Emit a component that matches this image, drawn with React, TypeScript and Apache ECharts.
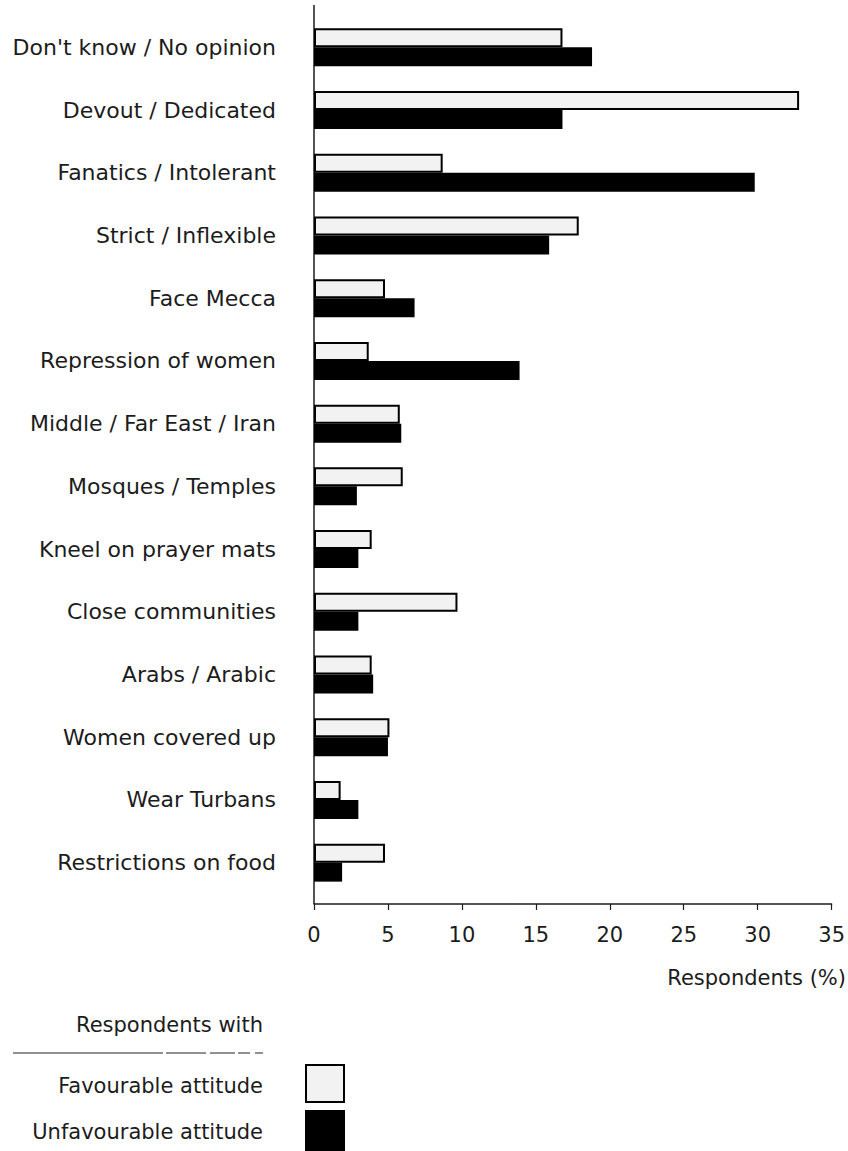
import React, { useEffect, useRef } from "react";
import * as echarts from "echarts";

const categories = [
  "Don't know / No opinion",
  "Devout / Dedicated",
  "Fanatics / Intolerant",
  "Strict / Inflexible",
  "Face Mecca",
  "Repression of women",
  "Middle / Far East / Iran",
  "Mosques / Temples",
  "Kneel on prayer mats",
  "Close communities",
  "Arabs / Arabic",
  "Women covered up",
  "Wear Turbans",
  "Restrictions on food",
];
const favourable = [16.8, 32.8, 8.7, 17.9, 4.8, 3.7, 5.8, 6.0, 3.9, 9.7, 3.9, 5.1, 1.8, 4.8];
const unfavourable = [18.8, 16.8, 29.8, 15.9, 6.8, 13.9, 5.9, 2.9, 3.0, 3.0, 4.0, 5.0, 3.0, 1.9];
const xMin = 0;
const xMax = 35;
const xStep = 5;
const seriesNames = ["Favourable attitude", "Unfavourable attitude"];
const legendTitle = "Respondents with";
const axisTitle = "Respondents (%)";

const FONT = "DejaVu Sans";
const INK = "#1c1c1c";
const FAV_FILL = "#f2f2f2";
const X0 = 314;
const PX_PER_UNIT = 14.94;

function txt(text: string, x: number, y: number, size: number, align: string) {
  return {
    type: "text",
    x,
    y,
    style: {
      text,
      fontSize: size,
      fontFamily: FONT,
      fill: INK,
      align,
      verticalAlign: "middle",
      textAlign: align,
      textVerticalAlign: "middle",
    },
  };
}

export default function App() {
  const ref = useRef<HTMLDivElement>(null);
  useEffect(() => {
    const chart = echarts.init(ref.current!, null, { renderer: "svg" });
    chart.setOption({
      animation: false,
      backgroundColor: "#ffffff",
      textStyle: { fontFamily: FONT, color: INK },
      grid: {
        left: X0,
        top: 16,
        width: (xMax - xMin) * PX_PER_UNIT,
        height: 878,
        containLabel: false,
      },
      xAxis: {
        type: "value",
        min: xMin,
        max: xMax,
        interval: xStep,
        offset: 10,
        axisLine: { show: true, lineStyle: { color: INK, width: 1.5 } },
        axisTick: { show: true, length: 6, lineStyle: { color: INK, width: 1.2 } },
        axisLabel: { fontSize: 21, color: INK, margin: 20, fontFamily: FONT },
        splitLine: { show: false },
      },
      yAxis: {
        type: "category",
        data: categories,
        inverse: true,
        axisLine: { show: false },
        axisTick: { show: false },
        axisLabel: {
          fontSize: 22,
          color: INK,
          margin: 38,
          fontFamily: FONT,
          padding: [7, 0, 0, 0],
        },
        splitLine: { show: false },
      },
      series: [
        {
          type: "bar",
          name: seriesNames[0],
          data: favourable,
          barWidth: 19,
          barGap: "0%",
          itemStyle: { color: FAV_FILL, borderColor: "#000", borderWidth: 2 },
        },
        {
          type: "bar",
          name: seriesNames[1],
          data: unfavourable,
          barWidth: 19,
          barGap: "0%",
          itemStyle: { color: "#000" },
        },
      ],
      graphic: [
        {
          type: "line",
          shape: { x1: X0, y1: 5, x2: X0, y2: 904 },
          style: { stroke: INK, lineWidth: 1.5 },
        },
        txt(axisTitle, 846, 978, 21, "right"),
        txt(legendTitle, 263, 1025, 21, "right"),
        {
          type: "line",
          shape: { x1: 13, y1: 1053, x2: 263, y2: 1053 },
          style: { stroke: "#222", lineWidth: 1.2, lineDash: [150, 3, 40, 4, 25, 3, 12, 5, 30] },
        },
        txt(seriesNames[0], 263, 1086, 21, "right"),
        {
          type: "rect",
          shape: { x: 306, y: 1065, width: 38, height: 37 },
          style: { fill: FAV_FILL, stroke: "#000", lineWidth: 2 },
        },
        txt(seriesNames[1], 263, 1132, 21, "right"),
        {
          type: "rect",
          shape: { x: 305, y: 1110, width: 40, height: 45 },
          style: { fill: "#000" },
        },
      ],
    });
    return () => chart.dispose();
  }, []);
  return (
    <div
      ref={ref}
      style={{ position: "fixed", left: 0, top: 0, width: 848, height: 1151, background: "#fff" }}
    />
  );
}
